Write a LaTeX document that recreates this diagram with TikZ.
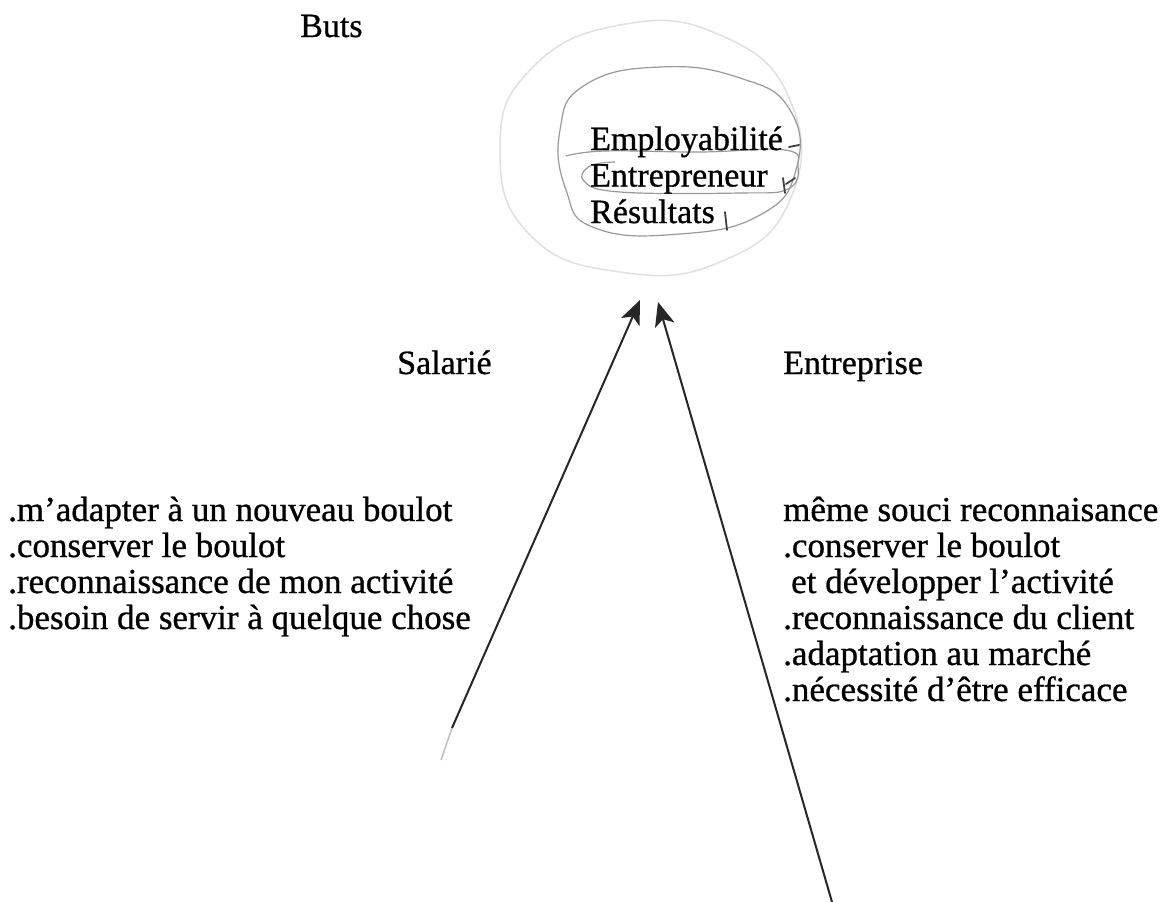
\documentclass[tikz,border=0pt]{standalone}
\usepackage{fontspec}
\setmainfont{Liberation Serif}[FakeBold=0.8]
\usetikzlibrary{arrows.meta}
\begin{document}
\begin{tikzpicture}[x=1pt,y=-1pt,
  txt/.style={inner sep=0pt, anchor=base west, align=left, font=\fontsize{34}{36}\selectfont},
  goaltxt/.style={txt, font=\fontsize{34}{36.5}\selectfont},
  listtxt/.style={txt, font=\fontsize{35}{36}\selectfont},
  arr/.style={line width=2pt, draw=black!85, -{Stealth[length=24pt,width=20pt,inset=6pt]}},
  faint/.style={draw=black!12, line width=1.5pt},
  pencil/.style={draw=black!40, line width=1.2pt},
  scribble/.style={draw=black!75, line width=1.8pt, line cap=round}]
\useasboundingbox[fill=white] (0,0) rectangle (1163,902);

% pencil circles around the goals
\draw[faint] plot[smooth cycle, tension=0.8] coordinates {(500,150) (530,70) (620,25) (720,35) (790,100) (790,200) (720,262) (620,272) (530,235)};
\draw[pencil] plot[smooth cycle, tension=0.8] coordinates {(560,130) (585,85) (660,67) (740,78) (790,110) (796,170) (760,215) (680,234) (595,228) (566,190)};
\draw[pencil] plot[smooth, tension=0.7] coordinates {(566,156) (605,151) (700,152) (785,150) (798,166) (788,189) (740,193) (620,192) (584,181) (590,166) (615,162)};

% texts (multi-line nodes are placed by the baseline of their last line)
\node[txt] (buts) at (300,37) {Buts};
\node[goaltxt] (goals) at (590,223) {Employabilité\\Entrepreneur\\Résultats};
\node[txt] (sal) at (397,374) {Salarié};
\node[txt] (ent) at (783,374) {Entreprise};
\node[listtxt] (left) at (8,629) {.m’adapter à un nouveau boulot\\.conserver le boulot\\.reconnaissance de mon activité\\.besoin de servir à quelque chose};
\node[listtxt] (right) at (783,701) {même souci reconnaisance\\.conserver le boulot\\\hspace*{8pt}et développer l’activité\\.reconnaissance du client\\.adaptation au marché\\.nécessité d’être efficace};

% small pencil marks
\draw[scribble] (789,147) -- (799,145);
\draw[scribble] (783,178) -- (785,193);
\draw[scribble] (786,184) -- (795,178);
\draw[scribble] (725,212) -- (727,230);

% arrows
\coordinate (ls) at (452,728);
\coordinate (lt) at (640,300);
\coordinate (rs) at (832,902);
\coordinate (rt) at (658,302);
\coordinate (lf) at (441,760);
\draw[draw=black!25, line width=1.5pt] (ls) -- (lf);
\draw[arr] (ls) -- (lt);
\draw[arr] (rs) -- (rt);
\end{tikzpicture}
\end{document}
